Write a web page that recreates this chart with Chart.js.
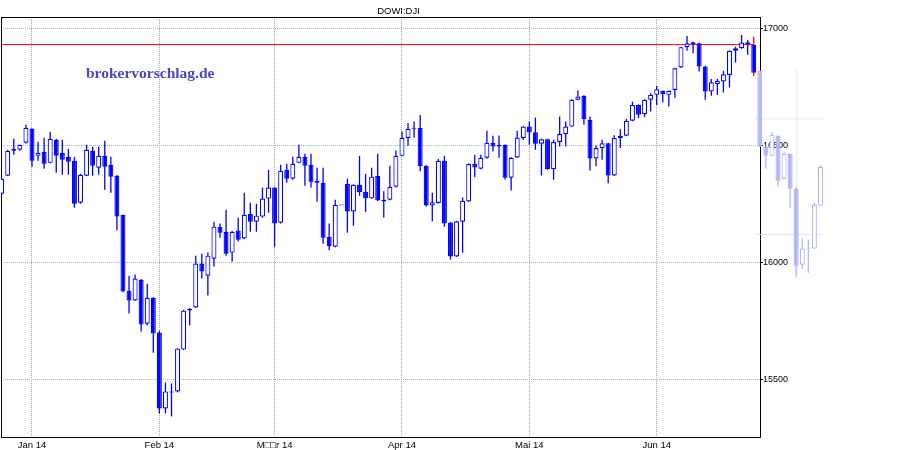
<!DOCTYPE html>
<html lang="de">
<head>
<meta charset="utf-8">
<title>DOWI:DJI</title>
<script src="https://cdn.jsdelivr.net/npm/chart.js@4.4.1/dist/chart.umd.min.js"></script>
<style>
  html, body { margin: 0; padding: 0; background: #fff; }
</style>
</head>
<body>
<canvas id="kurs" width="900" height="450"></canvas>
<script>
// Tageskerzen DOWI:DJI, 24.12.2013 bis 24.06.2014 (x = Handelstag)
const eroeffnung = [
    16295, 16372, 16487, 16483, 16513, 16573, 16457, 16474, 16427, 16526,
    16470, 16453, 16436, 16256, 16372, 16479, 16406, 16457, 16419, 16372,
    16205, 15880, 15838, 15927, 15739, 15850, 15701, 15376, 15444, 15449,
    15628, 15795, 15808, 15996, 15944, 16017, 16154, 16132, 16043, 16137,
    16103, 16209, 16175, 16197, 16274, 16321, 16171, 16397, 16359, 16427,
    16453, 16419, 16350, 16342, 16111, 16068, 16245, 16336, 16219, 16333,
    16303, 16275, 16372, 16269, 16269, 16325, 16457, 16533, 16573, 16576,
    16415, 16245, 16255, 16436, 16172, 16026, 16175, 16262, 16422, 16402,
    16449, 16513, 16504, 16504, 16363, 16450, 16533, 16582, 16558, 16509,
    16528, 16400, 16516, 16550, 16582, 16697, 16714, 16611, 16446, 16490,
    16511, 16373, 16533, 16543, 16607, 16675, 16635, 16697, 16718, 16735,
    16718, 16739, 16835, 16922, 16943, 16939, 16839, 16732, 16764, 16775,
    16803, 16907, 16917, 16943, 16932
];
const hoch = [
    16362, 16483, 16530, 16506, 16590, 16575, 16517, 16534, 16560, 16530,
    16526, 16487, 16453, 16380, 16504, 16496, 16496, 16521, 16453, 16375,
    16205, 15944, 15949, 15930, 15910, 15852, 15709, 15487, 15483, 15634,
    15798, 15806, 16030, 16038, 16043, 16175, 16167, 16226, 16135, 16192,
    16299, 16256, 16252, 16321, 16397, 16323, 16419, 16423, 16453, 16504,
    16466, 16466, 16406, 16406, 16167, 16269, 16245, 16359, 16335, 16457,
    16380, 16406, 16466, 16305, 16415, 16480, 16561, 16598, 16604, 16632,
    16417, 16299, 16444, 16457, 16174, 16179, 16279, 16424, 16462, 16462,
    16564, 16543, 16544, 16506, 16451, 16564, 16584, 16604, 16621, 16530,
    16530, 16526, 16625, 16604, 16699, 16736, 16716, 16625, 16501, 16526,
    16513, 16545, 16571, 16615, 16689, 16677, 16699, 16725, 16756, 16737,
    16737, 16834, 16924, 16970, 16945, 16941, 16842, 16786, 16786, 16821,
    16908, 16924, 16974, 16953, 16967
];
const tief = [
    16290, 16372, 16462, 16479, 16510, 16410, 16436, 16402, 16425, 16385,
    16376, 16376, 16235, 16252, 16370, 16372, 16376, 16312, 16299, 16137,
    15873, 15782, 15836, 15705, 15731, 15615, 15355, 15355, 15342, 15445,
    15626, 15731, 15806, 15932, 15859, 15983, 16107, 16030, 16004, 16090,
    16100, 16132, 16132, 16192, 16214, 16068, 16168, 16342, 16355, 16425,
    16329, 16321, 16261, 16081, 16053, 16066, 16245, 16128, 16158, 16286,
    16216, 16273, 16264, 16193, 16267, 16323, 16455, 16500, 16534, 16391,
    16240, 16177, 16253, 16154, 16013, 16024, 16043, 16260, 16365, 16400,
    16445, 16476, 16449, 16356, 16309, 16448, 16525, 16504, 16483, 16373,
    16398, 16355, 16497, 16497, 16580, 16695, 16590, 16394, 16412, 16440,
    16340, 16371, 16490, 16541, 16605, 16618, 16622, 16647, 16675, 16685,
    16668, 16706, 16833, 16907, 16896, 16818, 16697, 16714, 16718, 16728,
    16749, 16856, 16915, 16889, 16799
];
const schluss = [
    16359, 16479, 16479, 16504, 16577, 16436, 16470, 16423, 16530, 16457,
    16440, 16432, 16252, 16376, 16483, 16415, 16457, 16410, 16368, 16197,
    15876, 15838, 15932, 15735, 15850, 15697, 15376, 15449, 15444, 15632,
    15795, 15803, 15996, 15962, 16030, 16154, 16128, 16038, 16132, 16098,
    16205, 16175, 16201, 16274, 16321, 16167, 16393, 16359, 16423, 16453,
    16415, 16346, 16342, 16107, 16070, 16248, 16245, 16219, 16333, 16301,
    16275, 16368, 16266, 16262, 16325, 16457, 16534, 16573, 16573, 16413,
    16245, 16258, 16436, 16168, 16026, 16177, 16265, 16422, 16407, 16449,
    16513, 16497, 16497, 16363, 16449, 16535, 16582, 16557, 16509, 16528,
    16400, 16516, 16550, 16582, 16697, 16711, 16615, 16446, 16490, 16511,
    16373, 16533, 16543, 16607, 16675, 16633, 16697, 16718, 16742, 16721,
    16735, 16832, 16922, 16939, 16936, 16839, 16732, 16772, 16778, 16806,
    16906, 16917, 16942, 16935, 16813
];

// blasse Kerzen rechts ueber der Achse
const geistStart = 125;
const geistEroeffnung = [16821, 16496, 16457, 16543, 16359, 16466, 16316, 15991, 16060, 16060, 16244, 16415];
const geistHoch =       [16821, 16496, 16560, 16545, 16474, 16468, 16325, 16103, 16098, 16256, 16419, 16425];
const geistTief =       [16496, 16402, 16455, 16325, 16357, 16235, 15940, 15974, 15957, 16058, 16242, 16410];
const geistSchluss =    [16496, 16457, 16547, 16350, 16466, 16316, 15987, 16060, 16060, 16248, 16410, 16420];
const geistGitterX = [124.2, 135.4];
const geistGitterY = [16615, 16120];
const geistSenkrecht = [131.1, 15939, 16825];

const monatsIndex = [5, 26, 45, 66, 87, 108];
const monatsLabels = ['Jan 14', 'Feb 14', 'M\u25A1\u25A1r 14', 'Apr 14', 'Mai 14', 'Jun 14'];
const yTicks = [15500, 16000, 16500, 17000];
const vortagesSchluss = 16933;

const xMin = -0.11, xMax = 125.03;
const yMin = 15254, yMax = 17051;

const blau = '#0000ff';
const lila = '#b4b4f8';

const tage = schluss.map((_, i) => i);
const geistTage = geistSchluss.map((_, k) => geistStart + k);

const geistClip = { left: 0, top: 0, right: 64, bottom: 0 };

const wasserzeichen = {
    id: 'wasserzeichen',
    afterDraw(chart) {
        const c = chart.ctx;
        c.save();
        c.font = 'bold 15.5px "Liberation Serif"';
        c.fillStyle = '#4848c8';
        c.textBaseline = 'alphabetic';
        c.fillText('brokervorschlag.de', 86, 78);
        c.restore();
    }
};

Chart.defaults.font.family = '"Liberation Sans", Arial, sans-serif';

new Chart(document.getElementById('kurs'), {
    type: 'bar',
    data: {
        datasets: [
            {
                type: 'line',
                data: [{ x: xMin, y: vortagesSchluss }, { x: tage.length - 1, y: vortagesSchluss }],
                borderColor: '#ff0000',
                borderWidth: 1,
                pointRadius: 0,
                order: 6
            },
            {
                data: tage.map(i => ({ x: i, y: [tief[i], hoch[i]] })),
                backgroundColor: tage.map(i => i === tage.length - 1 ? '#ff0000' : blau),
                borderWidth: 0,
                barThickness: 1.3,
                grouped: false,
                inflateAmount: 0,
                order: 5
            },
            {
                data: tage.map(i => ({ x: i, y: [eroeffnung[i], schluss[i]] })),
                backgroundColor: tage.map(i => schluss[i] > eroeffnung[i] ? '#ffffff' : blau),
                borderColor: blau,
                borderWidth: 1.2,
                borderSkipped: false,
                barThickness: 5,
                minBarLength: 1,
                grouped: false,
                inflateAmount: 0,
                order: 4
            },
            {
                type: 'line',
                data: [{ x: geistGitterX[0], y: geistGitterY[0] }, { x: geistGitterX[1], y: geistGitterY[0] }],
                borderColor: '#e4e8e8', borderWidth: 1, pointRadius: 0, clip: geistClip, order: 3
            },
            {
                type: 'line',
                data: [{ x: geistGitterX[0], y: geistGitterY[1] }, { x: geistGitterX[1], y: geistGitterY[1] }],
                borderColor: '#e4e8e8', borderWidth: 1, pointRadius: 0, clip: geistClip, order: 3
            },
            {
                type: 'line',
                data: [{ x: geistSenkrecht[0], y: geistSenkrecht[1] }, { x: geistSenkrecht[0], y: geistSenkrecht[2] }],
                borderColor: '#e4e8e8', borderWidth: 1, pointRadius: 0, clip: geistClip, order: 3
            },
            {
                data: geistTage.map((x, k) => ({ x: x, y: [geistTief[k], geistHoch[k]] })),
                backgroundColor: lila,
                borderWidth: 0,
                barThickness: 1.3,
                grouped: false,
                inflateAmount: 0,
                clip: geistClip,
                order: 2
            },
            {
                data: geistTage.map((x, k) => ({ x: x, y: [geistEroeffnung[k], geistSchluss[k]] })),
                backgroundColor: geistTage.map((x, k) => geistSchluss[k] > geistEroeffnung[k] ? '#ffffff' : lila),
                borderColor: lila,
                borderWidth: 1.2,
                borderSkipped: false,
                barThickness: 5,
                minBarLength: 1,
                grouped: false,
                inflateAmount: 0,
                clip: geistClip,
                order: 1
            }
        ]
    },
    options: {
        responsive: false,
        animation: false,
        layout: { padding: { left: 1, right: 104, top: 0, bottom: 0 } },
        plugins: {
            legend: { display: false },
            tooltip: { enabled: false },
            title: {
                display: true,
                text: 'DOWI:DJI',
                color: '#000',
                font: { size: 9.5, weight: 'normal', lineHeight: 1 },
                padding: { top: 7, bottom: 0.5 }
            }
        },
        scales: {
            x: {
                type: 'linear',
                position: 'bottom',
                min: xMin,
                max: xMax,
                offset: false,
                grid: { offset: false, color: '#a8a8a8', drawTicks: false },
                border: { color: '#000', width: 1, dash: [1, 1] },
                ticks: {
                    color: '#000',
                    padding: 3,
                    maxRotation: 0,
                    autoSkip: false,
                    font: { size: 9.5 },
                    callback: (v, i) => monatsLabels[i]
                },
                afterBuildTicks: s => { s.ticks = monatsIndex.map(v => ({ value: v })); },
                afterFit: s => { s.height = 13; }
            },
            y: {
                type: 'linear',
                position: 'right',
                min: yMin,
                max: yMax,
                beginAtZero: false,
                grid: {
                    color: ctx => (ctx.tick && ctx.tick.value === 16500) ? '#94c0c0' : '#b4b4a0',
                    tickColor: '#000',
                    tickLength: 3
                },
                border: { color: '#000', width: 1, dash: [1, 1] },
                ticks: {
                    color: '#000',
                    padding: 0,
                    font: { size: 9 },
                    callback: v => String(v)
                },
                afterBuildTicks: s => { s.ticks = yTicks.map(v => ({ value: v })); },
                afterFit: s => { s.width = 36; }
            },
            xOben: {
                position: 'top',
                grid: { display: false, drawTicks: false },
                ticks: { display: false },
                border: { color: '#000', width: 1 }
            },
            yLinks: {
                position: 'left',
                grid: { display: false, drawTicks: false },
                ticks: { display: false },
                border: { color: '#000', width: 1 }
            }
        }
    },
    plugins: [wasserzeichen]
});
</script>
</body>
</html>
